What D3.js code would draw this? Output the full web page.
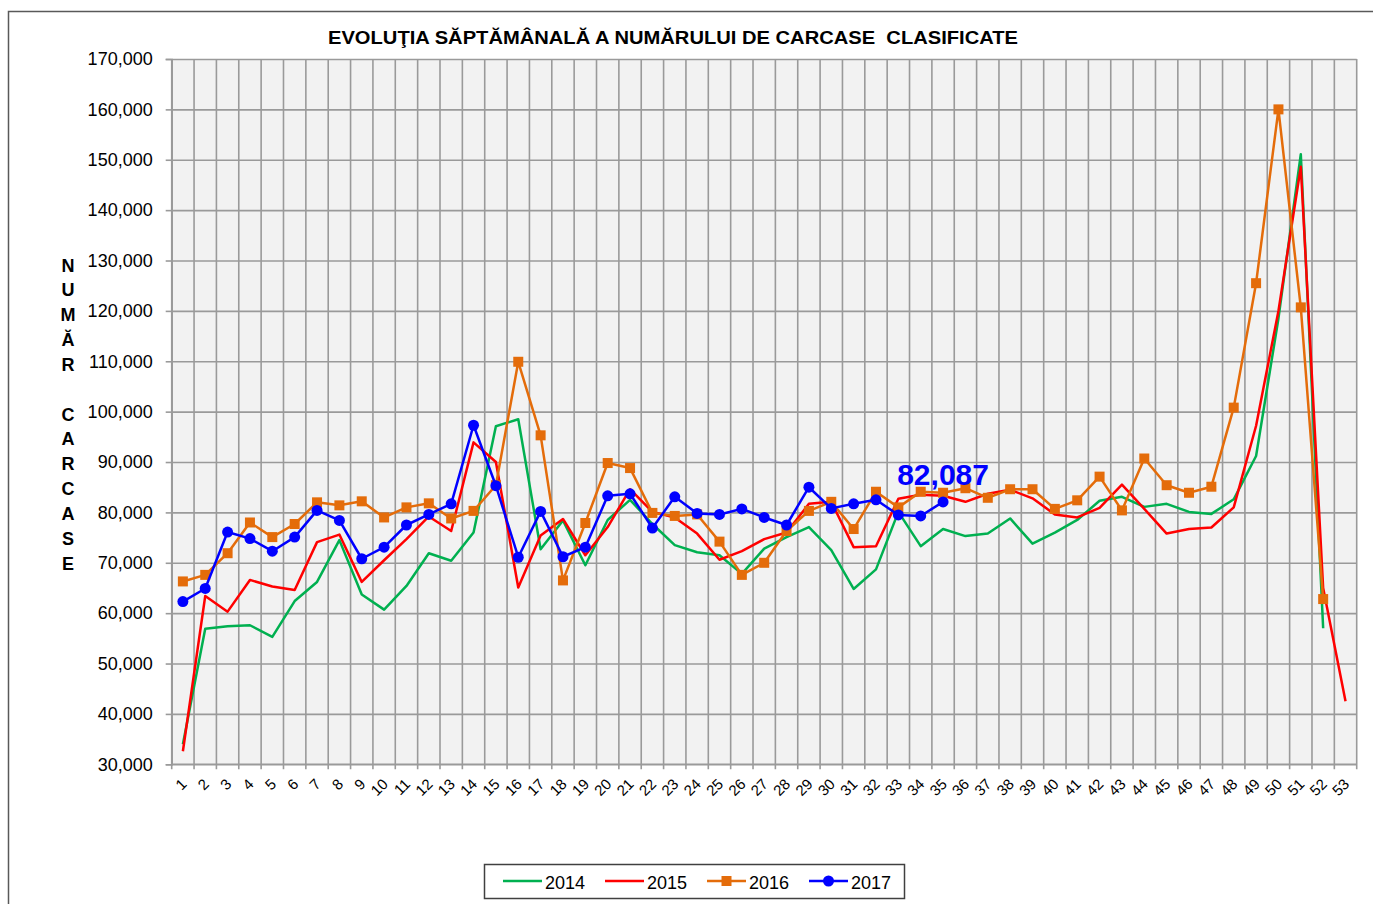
<!DOCTYPE html>
<html>
<head>
<meta charset="utf-8">
<script src="https://cdn.jsdelivr.net/npm/d3@7"></script>
<style>
  body { margin: 0; background: #fff; }
  svg { display: block; font-family: "Liberation Sans", Arial, sans-serif; }
</style>
</head>
<body>
<div id="chart"></div>
<script>
// weekly values
const weeks = d3.range(1, 54);

const s2014 = [34000, 56900, 57400, 57600, 55300, 62400, 66200, 74500, 63700, 60700,
  65400, 71900, 70400, 76000, 97100, 98500, 72700, 78400, 69500, 78500,
  82500, 77700, 73500, 72100, 71500, 67800, 72800, 75100, 77100, 72500,
  64800, 68700, 80100, 73300, 76700, 75300, 75800, 78800, 73800, 76000,
  78500, 82300, 83100, 81100, 81700, 80100, 79700, 82600, 91200, 118500,
  151100, 57000];

const s2015 = [32600, 63400, 60300, 66600, 65300, 64600, 74100, 75600, 66200, 70500,
  74700, 79200, 76300, 93900, 90000, 65100, 75400, 78700, 71500, 77100,
  84600, 80100, 79000, 75800, 70600, 72300, 74700, 76000, 81700, 82100,
  73100, 73300, 82700, 83500, 83300, 82100, 83700, 84500, 82800, 79600,
  79000, 80900, 85500, 80700, 75800, 76700, 77000, 81000, 97200, 120000,
  148600, 65000, 42500];

const s2016 = [66300, 67600, 71900, 78000, 75100, 77700, 82000, 81400, 82200, 79000,
  81000, 81800, 78800, 80300, 85400, 109900, 95300, 66500, 77900, 89800,
  88800, 79900, 79300, 79600, 74200, 67600, 70000, 76300, 80300, 82100,
  76700, 84100, 81000, 84100, 83900, 84800, 82900, 84600, 84600, 80700,
  82400, 87100, 80400, 90700, 85400, 83900, 85100, 100800, 125500, 160000,
  120700, 62800];

const s2017 = [62300, 64900, 76100, 74800, 72300, 75100, 80400, 78400, 70800, 73100,
  77500, 79600, 81700, 97300, 85300, 71100, 80200, 71200, 73100, 83300,
  83700, 76900, 83100, 79800, 79600, 80700, 79000, 77500, 85000, 80800,
  81700, 82500, 79500, 79300, 82087];

const yTicks = d3.range(30000, 170001, 10000);
const seriesNames = ["2014", "2015", "2016", "2017"];
const seriesColors = ["#00b050", "#ff0000", "#e46c0a", "#0000ff"];
const seriesMarkers = ["none", "none", "square", "circle"];

const title = "EVOLUŢIA SĂPTĂMÂNALĂ A NUMĂRULUI DE CARCASE  CLASIFICATE";
const yTitle = ["N", "U", "M", "Ă", "R", "", "C", "A", "R", "C", "A", "S", "E"];

// sizes
const W = 1373, H = 904;
const margin = {top: 59, left: 171.7};
const width = 1185, height = 705.3;

const svg = d3.select("#chart").append("svg")
  .attr("width", W)
  .attr("height", H);

// outer chart border
svg.append("rect")
  .attr("x", 8.5).attr("y", 11.5)
  .attr("width", W + 20).attr("height", H + 20)
  .attr("fill", "none")
  .attr("stroke", "#595959")
  .attr("stroke-width", 1.5);

const g = svg.append("g")
  .attr("transform", `translate(${margin.left}, ${margin.top})`);

const x = d3.scaleBand().domain(weeks).range([0, width]).padding(0);
const y = d3.scaleLinear().domain([30000, 170000]).range([height, 0]);
const cx = d => x(d) + x.bandwidth() / 2;

// plot background
g.append("rect")
  .attr("width", width).attr("height", height)
  .attr("fill", "#f2f2f2");

// horizontal grid
g.append("g")
  .call(d3.axisLeft(y).tickValues(yTicks).tickSize(-width).tickFormat(""))
  .call(a => a.select(".domain").remove())
  .call(a => a.selectAll("line").attr("stroke", "#9a9a9a").attr("stroke-width", 1.6));

// vertical grid on band edges
const edges = weeks.map(d => x(d)).concat([width]);
g.append("g")
  .selectAll("line")
  .data(edges)
  .join("line")
    .attr("x1", d => d).attr("x2", d => d)
    .attr("y1", 0).attr("y2", height + 5)
    .attr("stroke", "#9a9a9a")
    .attr("stroke-width", 1.6);

// y axis
g.append("g")
  .call(d3.axisLeft(y).tickValues(yTicks).tickSize(6).tickPadding(13).tickFormat(d3.format(",")))
  .call(a => a.select(".domain").attr("stroke", "#9a9a9a").attr("stroke-width", 1.6))
  .call(a => a.selectAll("line").attr("stroke", "#9a9a9a").attr("stroke-width", 1.6))
  .call(a => a.selectAll("text")
    .attr("font-size", 18)
    .attr("fill", "#000")
    .attr("font-family", "'Liberation Sans', Arial, sans-serif"));

// x axis line
g.append("line")
  .attr("x1", 0).attr("x2", width)
  .attr("y1", height).attr("y2", height)
  .attr("stroke", "#9a9a9a").attr("stroke-width", 1.6);

// x labels, rotated
g.append("g")
  .selectAll("text")
  .data(weeks)
  .join("text")
    .attr("transform", d => `translate(${cx(d) + 1}, ${height + 17}) rotate(-45)`)
    .attr("text-anchor", "end")
    .attr("dy", "0.35em")
    .attr("font-size", 15)
    .text(d => d);

// lines
const allSeries = [s2014, s2015, s2016, s2017];
const line = d3.line()
  .x((d, i) => cx(weeks[i]))
  .y(d => y(d));

allSeries.forEach((s, k) => {
  g.append("path")
    .datum(s)
    .attr("fill", "none")
    .attr("stroke", seriesColors[k])
    .attr("stroke-width", 2.5)
    .attr("stroke-linejoin", "round")
    .attr("d", line);

  if (seriesMarkers[k] === "square") {
    g.append("g").selectAll("rect")
      .data(s)
      .join("rect")
        .attr("x", (d, i) => cx(weeks[i]) - 5)
        .attr("y", d => y(d) - 5)
        .attr("width", 10).attr("height", 10)
        .attr("fill", seriesColors[k]);
  } else if (seriesMarkers[k] === "circle") {
    g.append("g").selectAll("circle")
      .data(s)
      .join("circle")
        .attr("cx", (d, i) => cx(weeks[i]))
        .attr("cy", d => y(d))
        .attr("r", 5.5)
        .attr("fill", seriesColors[k]);
  }
});

// label on the last 2017 point
const last = s2017.length - 1;
g.append("text")
  .attr("x", cx(weeks[last]))
  .attr("y", y(s2017[last]) - 17)
  .attr("text-anchor", "middle")
  .attr("font-size", 30)
  .attr("font-weight", "bold")
  .attr("fill", "#0000ff")
  .text(d3.format(",")(s2017[last]));

// title
svg.append("text")
  .attr("x", 673).attr("y", 44)
  .attr("text-anchor", "middle")
  .attr("font-size", 19)
  .attr("font-weight", "bold")
  .attr("textLength", 690)
  .attr("lengthAdjust", "spacingAndGlyphs")
  .style("white-space", "pre")
  .text(title);

// vertical axis title
svg.append("g")
  .selectAll("text")
  .data(yTitle)
  .join("text")
    .attr("x", 68)
    .attr("y", (d, i) => 265.3 + i * 24.83)
    .attr("dy", "0.35em")
    .attr("text-anchor", "middle")
    .attr("font-size", 18)
    .attr("font-weight", "bold")
    .text(d => d);

// legend
const legend = svg.append("g");
legend.append("rect")
  .attr("x", 484.5).attr("y", 864.5)
  .attr("width", 420).attr("height", 34)
  .attr("fill", "#fff")
  .attr("stroke", "#404040")
  .attr("stroke-width", 1.5);

seriesNames.forEach((name, k) => {
  const lx = 503 + k * 102;
  legend.append("line")
    .attr("x1", lx).attr("x2", lx + 39)
    .attr("y1", 881).attr("y2", 881)
    .attr("stroke", seriesColors[k])
    .attr("stroke-width", 2.5);
  if (seriesMarkers[k] === "square") {
    legend.append("rect")
      .attr("x", lx + 14.5).attr("y", 876)
      .attr("width", 10).attr("height", 10)
      .attr("fill", seriesColors[k]);
  } else if (seriesMarkers[k] === "circle") {
    legend.append("circle")
      .attr("cx", lx + 19.5).attr("cy", 881)
      .attr("r", 5.5)
      .attr("fill", seriesColors[k]);
  }
  legend.append("text")
    .attr("x", lx + 42).attr("y", 889)
    .attr("font-size", 18)
    .text(name);
});
</script>
</body>
</html>
